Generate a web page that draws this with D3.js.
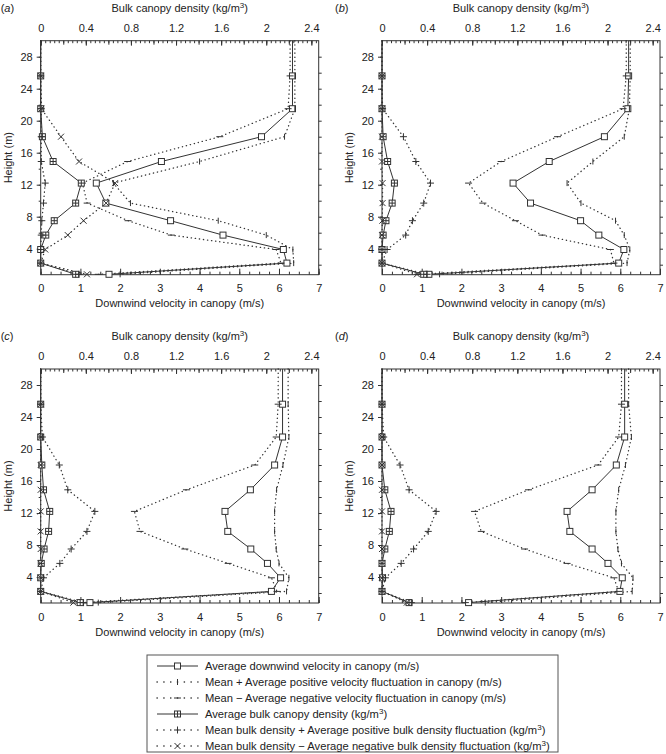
<!DOCTYPE html>
<html>
<head>
<meta charset="utf-8">
<script src="https://cdn.jsdelivr.net/npm/d3@7"></script>
<style>
  body { margin: 0; background: #fff; }
  text { font-family: Arial, "Liberation Sans", Helvetica, sans-serif; fill: #222; }
</style>
</head>
<body>
<div id="canvas"></div>
<script>
// canopy profiles, four cases (a)-(d)
// first entry (height 30) just carries the top value up to the frame, no marker there
const heights = [30, 25.6, 21.5, 18, 14.9, 12.2, 9.7, 7.5, 5.7, 3.9, 2.2, 0.8];
const panelNames = ["a", "b", "c", "d"];

// downwind velocity (m/s)
const velAvg_a   = [6.34, 6.34, 6.34, 5.56, 3.04, 1.40, 1.64, 3.27, 4.59, 6.11, 6.20, 1.72];
const velPlus_a  = [6.40, 6.40, 6.40, 6.14, 4.00, 1.83, 2.26, 4.47, 5.68, 6.35, 6.37, 2.00];
const velMinus_a = [6.28, 6.28, 6.23, 4.51, 2.19, 1.05, 1.17, 2.20, 3.29, 5.93, 6.05, 1.45];
const velAvg_b   = [6.21, 6.21, 6.19, 5.60, 4.21, 3.30, 3.74, 5.00, 5.46, 6.09, 5.96, 1.18];
const velPlus_b  = [6.25, 6.25, 6.23, 6.10, 5.31, 4.66, 5.01, 5.88, 6.10, 6.24, 6.17, 1.45];
const velMinus_b = [6.15, 6.15, 6.07, 4.42, 3.00, 2.18, 2.54, 3.36, 4.03, 5.75, 5.84, 0.90];
const velAvg_c   = [6.09, 6.09, 6.09, 5.89, 5.28, 4.64, 4.71, 5.29, 5.71, 6.04, 5.81, 1.24];
const velPlus_c  = [6.23, 6.23, 6.25, 6.10, 5.94, 5.89, 5.89, 5.93, 6.00, 6.25, 6.19, 1.45];
const velMinus_c = [5.98, 5.98, 5.93, 5.39, 3.67, 2.36, 2.50, 3.63, 4.72, 5.81, 5.95, 1.00];
const velAvg_d   = [6.11, 6.11, 6.11, 5.90, 5.29, 4.66, 4.73, 5.29, 5.69, 6.05, 5.99, 2.18];
const velPlus_d  = [6.21, 6.21, 6.28, 6.13, 5.96, 5.89, 5.89, 5.94, 6.03, 6.32, 6.30, 2.60];
const velMinus_d = [6.03, 6.03, 5.96, 5.44, 3.69, 2.33, 2.50, 3.59, 4.66, 5.84, 5.96, 2.10];

// bulk canopy density (kg/m3)
const densAvg_a   = [0, 0, 0, 0.015, 0.11, 0.36, 0.31, 0.12, 0.045, 0, 0, 0.31];
const densPlus_a  = [0, 0, 0.005, 0.005, 0.005, 0.04, 0.025, 0.01, 0.005, 0, 0, 0.34];
const densMinus_a = [0, 0, 0.005, 0.18, 0.34, 0.66, 0.58, 0.38, 0.24, 0.04, 0, 0.41];
const densAvg_b   = [0, 0, 0, 0.01, 0.05, 0.11, 0.09, 0.035, 0.01, 0, 0, 0.37];
const densPlus_b  = [0, 0, 0.005, 0.19, 0.30, 0.43, 0.37, 0.27, 0.21, 0.045, 0, 0.40];
const densMinus_b = [0, 0, 0, 0, 0, 0.005, 0.005, 0.003, 0, 0, 0, 0.31];
const densAvg_c   = [0, 0, 0, 0.01, 0.025, 0.08, 0.07, 0.03, 0.005, 0, 0, 0.35];
const densPlus_c  = [0, 0, 0.015, 0.165, 0.24, 0.48, 0.41, 0.27, 0.17, 0.025, 0, 0.38];
const densMinus_c = [0, 0, 0, 0, 0, 0, 0, 0, 0, 0, 0, 0.29];
const densAvg_d   = [0, 0, 0, 0, 0.025, 0.08, 0.065, 0.025, 0, 0.005, 0, 0.24];
const densPlus_d  = [0, 0, 0.015, 0.16, 0.24, 0.48, 0.41, 0.28, 0.17, 0.03, 0, 0.26];
const densMinus_d = [0, 0, 0, 0, 0, 0, 0, 0, 0, 0, 0, 0.22];

const velTicks = [0, 1, 2, 3, 4, 5, 6, 7];
const densTicks = [0, 0.4, 0.8, 1.2, 1.6, 2, 2.4];
const heightTicks = [4, 8, 12, 16, 20, 24, 28];

const legendLabels = [
  ["Average downwind velocity in canopy (m/s)"],
  ["Mean + Average positive velocity fluctuation in canopy (m/s)"],
  ["Mean \u2212 Average negative velocity fluctuation in canopy (m/s)"],
  ["Average bulk canopy density (kg/m", "3", ")"],
  ["Mean bulk density + Average positive bulk density fluctuation (kg/m", "3", ")"],
  ["Mean bulk density \u2212 Average negative bulk density fluctuation (kg/m", "3", ")"]
];

// ---- layout ----
const width = 666, height = 754;
const pw = 278, ph = 234;
const lefts = [40.7, 382, 40.7, 382];
const tops = [40.7, 40.7, 369, 369];
const ink = "#333";
const dots = "0.3,3.8";

const seriesStyle = [
  { key: "velAvg",    scale: "v", dash: null, marker: "square" },
  { key: "velPlus",   scale: "v", dash: dots, marker: "vtick" },
  { key: "velMinus",  scale: "v", dash: dots, marker: "hdash" },
  { key: "densAvg",   scale: "d", dash: null, marker: "squarePlus" },
  { key: "densPlus",  scale: "d", dash: dots, marker: "plus" },
  { key: "densMinus", scale: "d", dash: dots, marker: "cross" }
];

const table = {
  a: { velAvg: velAvg_a, velPlus: velPlus_a, velMinus: velMinus_a, densAvg: densAvg_a, densPlus: densPlus_a, densMinus: densMinus_a },
  b: { velAvg: velAvg_b, velPlus: velPlus_b, velMinus: velMinus_b, densAvg: densAvg_b, densPlus: densPlus_b, densMinus: densMinus_b },
  c: { velAvg: velAvg_c, velPlus: velPlus_c, velMinus: velMinus_c, densAvg: densAvg_c, densPlus: densPlus_c, densMinus: densMinus_c },
  d: { velAvg: velAvg_d, velPlus: velPlus_d, velMinus: velMinus_d, densAvg: densAvg_d, densPlus: densPlus_d, densMinus: densMinus_d }
};

const svg = d3.select("#canvas")
    .append("svg")
    .attr("width", width)
    .attr("height", height);

function marker(sel, type, cx, cy) {
    const m = sel.append("g")
        .attr("transform", `translate(${cx},${cy})`)
        .attr("stroke", ink).attr("stroke-width", 1).attr("fill", "none");
    if (type === "square" || type === "squarePlus")
        m.append("rect").attr("x", -3).attr("y", -3).attr("width", 6).attr("height", 6).attr("fill", "#fff");
    if (type === "squarePlus") m.append("path").attr("d", "M-3,0H3M0,-3V3");
    if (type === "plus") m.append("path").attr("d", "M-3.5,0H3.5M0,-3.5V3.5");
    if (type === "cross") m.append("path").attr("d", "M-3,-3L3,3M-3,3L3,-3");
    if (type === "vtick") m.append("path").attr("d", "M0,-3V3");
    if (type === "hdash") m.append("path").attr("d", "M-3.5,0H3.5");
}

function supText(sel, parts) {
    sel.append("tspan").text(parts[0]);
    if (parts.length > 1) {
        sel.append("tspan").attr("font-size", 8).attr("dy", -4).text(parts[1]);
        sel.append("tspan").attr("dy", 4).text(parts[2]);
    }
}

function styleAxis(ax) {
    ax.select(".domain").remove();
    ax.attr("font-size", 11).attr("font-family", "Arial, 'Liberation Sans', sans-serif");
    ax.selectAll("line").attr("stroke", ink);
    ax.selectAll("text").attr("fill", "#222");
}

const densFmt = d => String(+d.toFixed(1));

panelNames.forEach(function(name, k) {
    const g = svg.append("g").attr("transform", `translate(${lefts[k]},${tops[k]})`);
    const x = d3.scaleLinear().domain([0, 7]).range([0, pw]);
    const xd = d3.scaleLinear().domain([0, 2.465]).range([0, pw]);
    const y = d3.scaleLinear().domain([0.75, 30]).range([ph, 0]);

    // bottom axis: velocity, ticks pointing in
    styleAxis(g.append("g").attr("transform", `translate(0,${ph})`)
        .call(d3.axisBottom(x).tickValues(d3.range(0, 29).map(i => i * 0.25)).tickSize(-3).tickFormat("")));
    styleAxis(g.append("g").attr("transform", `translate(0,${ph})`)
        .call(d3.axisBottom(x).tickValues(velTicks).tickSize(-6).tickPadding(10).tickFormat(d3.format("d"))));

    // top axis: density
    styleAxis(g.append("g")
        .call(d3.axisTop(xd).tickValues(d3.range(0, 62).map(i => i * 0.04)).tickSize(-2.5).tickFormat("")));
    styleAxis(g.append("g")
        .call(d3.axisTop(xd).tickValues(d3.range(0, 13).map(i => i * 0.2)).tickSize(-4).tickFormat("")));
    styleAxis(g.append("g")
        .call(d3.axisTop(xd).tickValues(densTicks).tickSize(-5).tickPadding(9).tickFormat(densFmt)));

    // left axis: height
    styleAxis(g.append("g")
        .call(d3.axisLeft(y).tickValues(d3.range(2, 30, 2)).tickSize(2).tickFormat("")));
    styleAxis(g.append("g")
        .call(d3.axisLeft(y).tickValues(heightTicks).tickSize(4).tickPadding(4).tickFormat(d3.format("d"))));
    // right axis
    styleAxis(g.append("g").attr("transform", `translate(${pw},0)`)
        .call(d3.axisRight(y).tickValues(d3.range(2, 30, 2)).tickSize(3).tickFormat("")));

    g.append("rect").attr("width", pw).attr("height", ph)
        .attr("fill", "none").attr("stroke", ink).attr("stroke-width", 1);

    // lines
    seriesStyle.forEach(function(s) {
        const vals = table[name][s.key];
        const sx = s.scale === "v" ? x : xd;
        const line = d3.line().x(d => sx(d)).y((d, i) => y(heights[i]));
        g.append("path").datum(vals)
            .attr("d", line)
            .attr("fill", "none")
            .attr("stroke", ink)
            .attr("stroke-width", s.dash ? 1.3 : 1)
            .attr("stroke-dasharray", s.dash)
            .attr("stroke-linecap", s.dash ? "round" : "butt");
    });
    // markers (skip the top carry point)
    seriesStyle.forEach(function(s) {
        const vals = table[name][s.key];
        const sx = s.scale === "v" ? x : xd;
        vals.forEach(function(v, i) {
            if (i === 0) return;
            marker(g, s.marker, sx(v), y(heights[i]));
        });
    });

    // labels
    const lab = g.append("text").attr("x", k % 2 ? -47 : -40).attr("y", -29).attr("font-size", 11);
    lab.append("tspan").text("(");
    lab.append("tspan").attr("font-style", "italic").text(name);
    lab.append("tspan").text(")");

    supText(g.append("text").attr("x", pw / 2).attr("y", -29).attr("text-anchor", "middle").attr("font-size", 11),
        ["Bulk canopy density (kg/m", "3", ")"]);

    g.append("text").attr("x", pw / 2).attr("y", ph + 32.5)
        .attr("text-anchor", "middle").attr("font-size", 11)
        .text("Downwind velocity in canopy (m/s)");

    g.append("text").attr("transform", `translate(-29,${ph / 2}) rotate(-90)`)
        .attr("text-anchor", "middle").attr("font-size", 11)
        .text("Height (m)");
});

// ---- legend ----
const lg = svg.append("g").attr("transform", "translate(147,655)");
lg.append("rect").attr("width", 411).attr("height", 97)
    .attr("fill", "none").attr("stroke", "#555").attr("stroke-width", 1);
seriesStyle.forEach(function(s, i) {
    const yy = 11 + i * 16;
    lg.append("line").attr("x1", 10).attr("x2", 51).attr("y1", yy).attr("y2", yy)
        .attr("stroke", ink)
        .attr("stroke-width", s.dash ? 1.4 : 1)
        .attr("stroke-dasharray", s.dash ? "0.3,6.5" : null)
        .attr("stroke-linecap", s.dash ? "round" : "butt");
    marker(lg, s.marker, 30.5, yy);
    supText(lg.append("text").attr("x", 58).attr("y", yy + 4).attr("font-size", 11.2), legendLabels[i]);
});
</script>
</body>
</html>
